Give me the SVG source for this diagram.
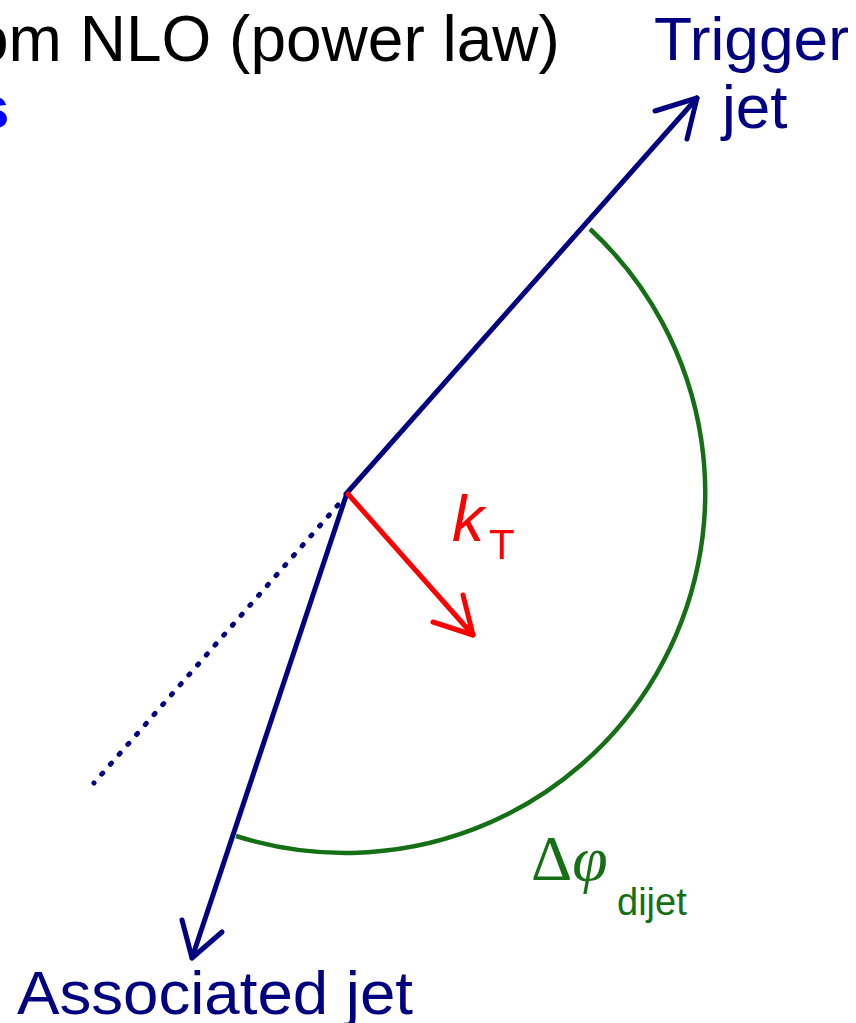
<svg xmlns="http://www.w3.org/2000/svg" width="856" height="1023" viewBox="0 0 856 1023">
<style>
.navy{fill:none;stroke:#000080;stroke-width:5;stroke-linecap:round;stroke-linejoin:round}
.red{fill:none;stroke:#ff0000;stroke-width:5;stroke-linecap:round;stroke-linejoin:round}
.arc{fill:none;stroke:#157015;stroke-width:4.5}
.dots{fill:none;stroke:#000080;stroke-width:5;stroke-linecap:round;stroke-dasharray:1.5 11.71}
.sans{font-family:"Liberation Sans",Arial,sans-serif}
.serif{font-family:"Liberation Serif","Times New Roman",serif}
</style>
<rect width="856" height="1023" fill="#ffffff"/>
<g id="header">
<text class="sans" x="-27" y="61" font-size="64" fill="#000000">om NLO (power law)</text>
<text class="sans" x="-24" y="128" font-size="60" font-weight="bold" fill="#0000ff">s</text>
</g>
<g id="connectors">
<path class="dots" d="M338 505 L94 783"/>
<path class="navy" d="M346 494 L697 98"/>
<path class="navy" d="M655 111 L697 98 L687 139"/>
<path class="navy" d="M346 496 L192 958"/>
<path class="navy" d="M182 920 L192 958 L222 932"/>
<path class="red" d="M348 494 L473 635"/>
<path class="red" d="M433 622 L473 635 L463 595"/>
<path class="arc" d="M590 229 A360 360 0 0 1 236 836"/>
</g>
<g id="trigger-jet">
<text class="sans" x="654" y="60" font-size="62" fill="#000080" textLength="195" lengthAdjust="spacingAndGlyphs">Trigger</text>
<text class="sans" x="722" y="128" font-size="62" fill="#000080">jet</text>
</g>
<g id="associated-jet">
<text class="sans" x="17" y="1014" font-size="62" fill="#000080" textLength="396" lengthAdjust="spacingAndGlyphs">Associated jet</text>
</g>
<g id="kt-label">
<text class="sans" x="452" y="541" font-size="64" font-style="italic" fill="#ff0000">k</text>
<text class="sans" x="489" y="559" font-size="42" fill="#ff0000">T</text>
</g>
<g id="dphi-label">
<text class="serif" x="531" y="880" font-size="64" fill="#157015">Δ<tspan font-style="italic">φ</tspan></text>
<text class="sans" x="617" y="915" font-size="38" fill="#157015">dijet</text>
</g>
</svg>
